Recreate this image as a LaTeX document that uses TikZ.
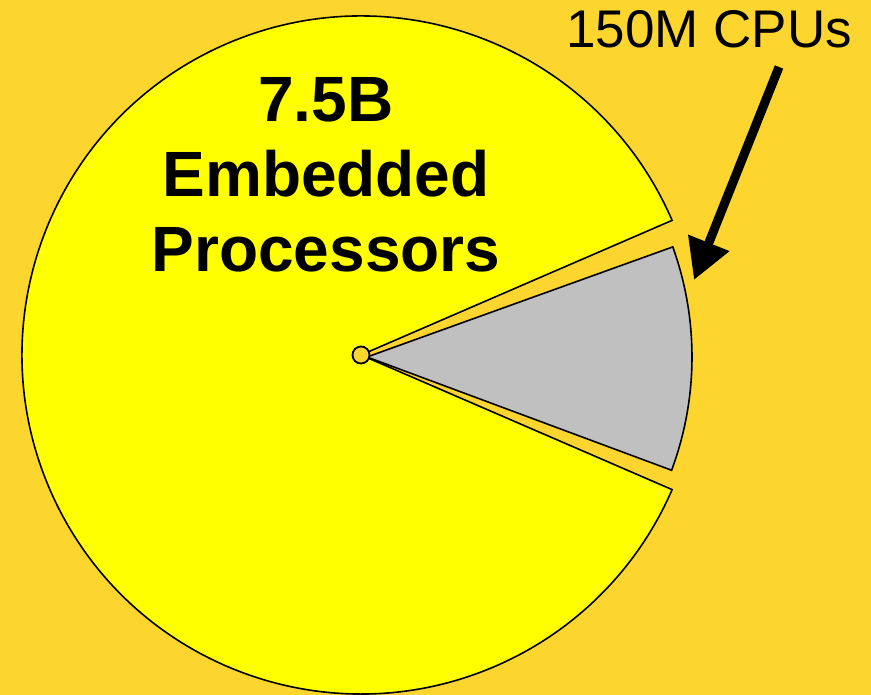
\documentclass[tikz,border=0pt]{standalone}
\usepackage{fontspec}
\setmainfont{Liberation Sans}
\usetikzlibrary{arrows.meta,positioning}
\definecolor{bgorange}{RGB}{252,214,46}
\definecolor{pieyellow}{RGB}{255,255,0}
\definecolor{piegray}{RGB}{192,192,192}

\begin{document}
\begin{tikzpicture}[x=1pt, y=1pt,
    slice/.style={draw=black, line width=1.6pt, line join=miter},
    biglabel/.style={align=center, inner sep=0pt, font=\fontsize{64}{75}\selectfont\bfseries},
    cpulabel/.style={inner sep=0pt, font=\fontsize{53}{60}\selectfont}]
    \useasboundingbox (0,0) rectangle (871,695);
    \fill[bgorange] (0,0) rectangle (871,695);

    \coordinate (embc) at (361,340);
    \coordinate (cpuc) at (367,338);

    \draw[slice, fill=pieyellow] (embc) -- ++(23.4:339)
        arc[start angle=23.4, end angle=336.6, radius=339] -- cycle;
    \draw[slice, fill=piegray] (cpuc) -- ++(-20.4:325)
        arc[start angle=-20.4, end angle=19.8, radius=325] -- cycle;
    \filldraw[fill=bgorange, draw=black, line width=1.8pt] (embc) circle (8.5);

    \node[biglabel, anchor=north] (emb) at (326,618) {7.5B\\Embedded\\Processors};
    \node[cpulabel, anchor=base] (cpu) at (709,647) {150M CPUs};

    \coordinate (tail) at (779,628);
    \coordinate (tip) at (694,415);
    \draw[line width=9pt, -{Triangle[length=40pt, width=42pt]}] (tail) -- (tip);
\end{tikzpicture}
\end{document}
